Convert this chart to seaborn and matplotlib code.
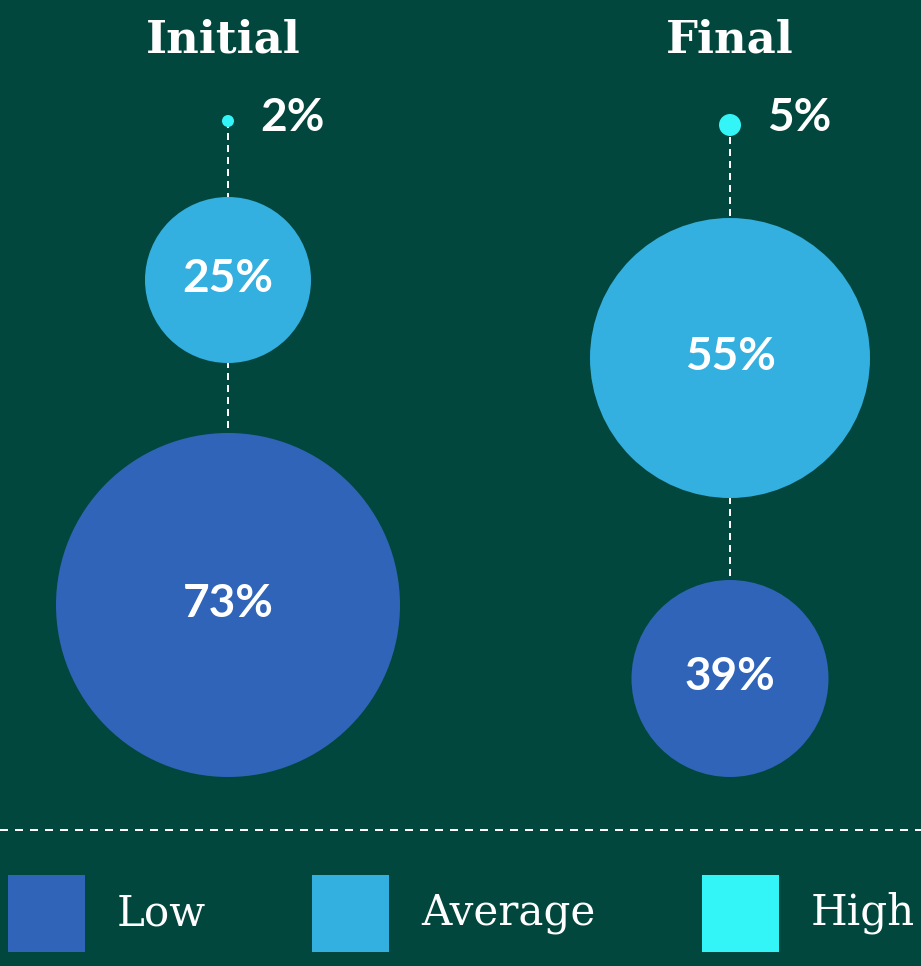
import matplotlib
matplotlib.use("Agg")
import matplotlib.pyplot as plt
import seaborn as sns
import pandas as pd

# ---- data ----
stages = ["Initial", "Final"]
levels = ["Low", "Average", "High"]
low_pct = [73, 39]
average_pct = [25, 55]
high_pct = [2, 5]

# ---- style / layout ----
BG = "#02473d"
level_colors = {"Low": "#2f64b8", "Average": "#33afe0", "High": "#33f5f8"}
radius_low = [172, 98.5]      # bubble radii in px
radius_average = [83, 140]
radius_high = [6, 11]
stage_x = [228, 730]
stage_gap = [70, 82]
bottom_y = 777
W, H = 921, 966
DPI = 72

sns.set_theme(style="white")
plt.rcParams["font.family"] = ["DejaVu Sans"]

rows = []
for i, st in enumerate(stages):
    vals = [low_pct[i], average_pct[i], high_pct[i]]
    rads = [radius_low[i], radius_average[i], radius_high[i]]
    y = bottom_y
    prev_r = None
    for lev, v, r in zip(levels, vals, rads):
        if prev_r is None:
            cy = y - r
        else:
            cy = y - prev_r - stage_gap[i] - r
        rows.append(dict(stage=st, level=lev, value=v, x=stage_x[i], y=cy,
                         r=r, s=(2 * r) ** 2))
        y = cy
        prev_r = r
df = pd.DataFrame(rows)

fig = plt.figure(figsize=(W / DPI, H / DPI), dpi=DPI, facecolor=BG)
ax = fig.add_axes([0, 0, 1, 1])
ax.set_facecolor(BG)
ax.set_xlim(0, W)
ax.set_ylim(H, 0)

# connecting dashed lines
for i, st in enumerate(stages):
    sub = df[df.stage == st]
    ax.plot([stage_x[i], stage_x[i]], [sub.y.min(), sub.y.max()],
            color="white", lw=2, dashes=(3.5, 2.5), zorder=1)

smin, smax = df.s.min(), df.s.max()
sns.scatterplot(data=df, x="x", y="y", hue="level", palette=level_colors,
                size="s", sizes=(smin, smax), size_norm=(smin, smax),
                linewidth=0, legend=False, ax=ax, zorder=2)

# labels
for _, row in df.iterrows():
    label = f"{row.value}%"
    if row.level == "High":
        ax.text(row.x + row.r + 26, 118, label, color="white", fontsize=46,
                fontfamily="Lato", fontweight="bold", ha="left", va="center")
    else:
        ax.text(row.x, row.y - 1, label, color="white", fontsize=46,
                fontfamily="Lato", fontweight="bold", ha="center", va="center")

# titles
for i, st in enumerate(stages):
    ax.text(stage_x[i] - 5 if i == 0 else stage_x[i], 40, st, color="white",
            fontsize=45, fontfamily="DejaVu Serif", fontweight="bold",
            ha="center", va="center")

# separator
ax.axhline(830, color="white", lw=2, dashes=(4, 3.5))

# legend
leg_x = [8, 312, 702]
sq = 77
for lev, lx in zip(levels, leg_x):
    ax.add_patch(plt.Rectangle((lx, 875), sq, sq, color=level_colors[lev],
                               lw=0))
    ax.text(lx + sq + 32, 913, lev, color="white", fontsize=42,
            fontfamily="DejaVu Serif", fontweight="light", ha="left",
            va="center")

ax.axis("off")
fig.savefig("out.png", dpi=DPI, facecolor=BG)
